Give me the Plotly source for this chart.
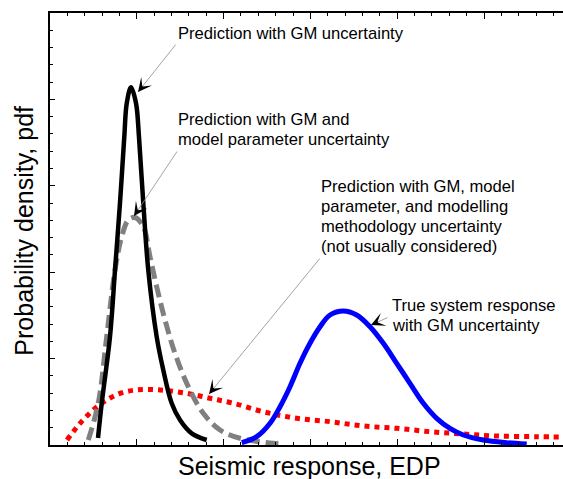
import plotly.graph_objects as go

# ---- data (x: seismic response, y: probability density; arbitrary units) ----
black_x = [0.553, 0.596, 0.691, 0.749, 0.806, 0.856, 0.884, 0.933, 0.991, 1.025,
           1.075, 1.132, 1.229, 1.305, 1.402, 1.498, 1.632, 1.805]
black_y = [0.081, 0.483, 1.253, 2.025, 2.797, 3.568, 3.955, 4.140, 3.955, 3.568,
           2.797, 2.025, 1.253, 0.868, 0.483, 0.289, 0.135, 0.058]

gray_x = [0.441, 0.556, 0.653, 0.749, 0.826, 0.902, 0.979, 1.075, 1.152, 1.229,
          1.325, 1.440, 1.593, 1.766, 1.959, 2.189, 2.573, 2.650]
gray_y = [0.058, 0.483, 1.253, 2.025, 2.411, 2.604, 2.633, 2.527, 2.179, 1.832,
          1.447, 1.061, 0.675, 0.367, 0.174, 0.078, 0.020, 0.020]

red_x = [0.196, 0.346, 0.499, 0.653, 0.806, 0.999, 1.267, 1.575, 1.843, 2.112,
         2.457, 2.842, 3.226, 3.609, 3.994, 4.378, 4.762, 5.146, 5.607, 5.910]
red_y = [0.058, 0.251, 0.405, 0.521, 0.598, 0.637, 0.637, 0.598, 0.541, 0.483,
         0.385, 0.309, 0.270, 0.220, 0.193, 0.154, 0.127, 0.104, 0.096, 0.093]

blue_x = [2.209, 2.381, 2.535, 2.650, 2.765, 2.880, 2.995, 3.111, 3.226, 3.379,
          3.533, 3.687, 3.840, 3.994, 4.147, 4.301, 4.455, 4.608, 4.762, 4.992,
          5.261, 5.492]
blue_y = [0.027, 0.096, 0.251, 0.443, 0.675, 0.946, 1.177, 1.369, 1.505, 1.551,
          1.505, 1.369, 1.177, 0.946, 0.714, 0.483, 0.309, 0.193, 0.116, 0.058,
          0.027, 0.012]

x_title = "Seismic response, EDP"
y_title = "Probability density, pdf"

labels = [
    ["Prediction with GM uncertainty"],
    ["Prediction with GM and", "model parameter uncertainty"],
    ["Prediction with GM, model", "parameter, and modelling", "methodology uncertainty", "(not usually considered)"],
    ["True system response", "with GM uncertainty"],
]
# label anchor: left x (paper) and first-line y (paper); line step in paper units
label_pos = [(0.2456, 0.9514), (0.2456, 0.7535), (0.5244, 0.5979), (0.6628, 0.3218)]
line_step = 0.0458
# arrow tips (data coords) and tail offsets (pixels)
arrow_tip = [(1.014, 4.086), (0.968, 2.650), (1.832, 0.590), (3.698, 1.389)]
arrow_tail = [(39, -49), (44, -66), (112, -137), (18, -8)]

FONT = "Liberation Sans, Arial, sans-serif"

fig = go.Figure()
fig.add_trace(go.Scatter(x=red_x, y=red_y, mode="lines", line=dict(color="#ff0000", width=5, dash="dot", shape="spline"),
                         hoverinfo="skip"))
fig.add_trace(go.Scatter(x=gray_x, y=gray_y, mode="lines", line=dict(color="#808080", width=5, dash="13px,6px", shape="spline"),
                         hoverinfo="skip"))
fig.add_trace(go.Scatter(x=black_x, y=black_y, mode="lines", line=dict(color="#000000", width=4.5, shape="spline"),
                         hoverinfo="skip"))
fig.add_trace(go.Scatter(x=blue_x, y=blue_y, mode="lines", line=dict(color="#0000ff", width=5, shape="spline"),
                         hoverinfo="skip"))

annotations = []
for lines, (px, py) in zip(labels, label_pos):
    for i, txt in enumerate(lines):
        annotations.append(dict(text=txt, xref="paper", yref="paper", x=px, y=py - i * line_step,
                                xanchor="left", yanchor="middle", align="left", showarrow=False,
                                font=dict(family=FONT, size=16.6, color="black")))
for (tx, ty), (ax, ay) in zip(arrow_tip, arrow_tail):
    annotations.append(dict(text="", x=tx, y=ty, xref="x", yref="y", ax=ax, ay=ay, showarrow=True,
                            arrowhead=0, arrowwidth=0.8, arrowcolor="#8c8c8c"))
    L = (ax * ax + ay * ay) ** 0.5
    annotations.append(dict(text="", x=tx, y=ty, xref="x", yref="y", ax=ax / L * 9, ay=ay / L * 9, showarrow=True,
                            arrowhead=3, arrowsize=2.3, arrowwidth=1, arrowcolor="black"))
annotations.append(dict(text=x_title, xref="paper", yref="paper", x=0.505, y=-0.0486, xanchor="center", yanchor="middle",
                        showarrow=False, font=dict(family=FONT, size=25, color="black")))
annotations.append(dict(text=y_title, xref="paper", yref="paper", x=-0.0497, y=0.495, xanchor="center", yanchor="middle",
                        textangle=-90, showarrow=False, font=dict(family=FONT, size=25, color="black")))

fig.update_layout(
    width=563, height=479,
    margin=dict(l=50, r=0, t=13, b=34, pad=0),
    paper_bgcolor="white", plot_bgcolor="white",
    showlegend=False,
    annotations=annotations,
    font=dict(family=FONT),
)
fig.update_xaxes(range=[0, 5.91], showline=True, linecolor="black", linewidth=1.5, mirror="allticks",
                 ticks="inside", ticklen=6, tickwidth=1, tickcolor="black", dtick=1, tick0=0,
                 minor=dict(ticks="inside", ticklen=3, dtick=0.2, tickcolor="black", tickwidth=1),
                 showticklabels=False, showgrid=False, zeroline=False)
fig.update_yaxes(range=[0, 5], showline=True, linecolor="black", linewidth=1.5, mirror=False,
                 ticks="inside", ticklen=5, tickwidth=1, tickcolor="black", dtick=1, tick0=0,
                 minor=dict(ticks="inside", ticklen=3, dtick=0.2, tickcolor="black", tickwidth=1),
                 showticklabels=False, showgrid=False, zeroline=False)

fig.write_html("out.html", config={"displayModeBar": False},
               post_script="document.body.style.margin='0';document.body.style.overflow='hidden';")
